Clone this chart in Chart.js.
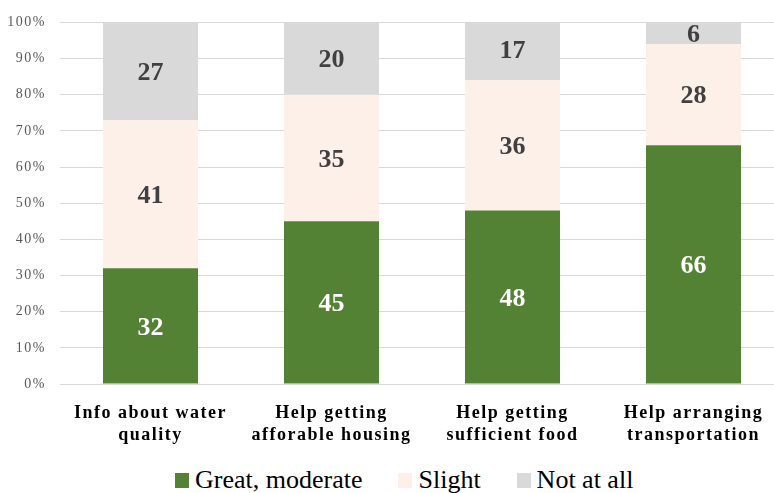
<!DOCTYPE html>
<html>
<head>
<meta charset="utf-8">
<script src="https://cdn.jsdelivr.net/npm/chart.js@4/dist/chart.umd.min.js"></script>
<style>
  html, body { margin: 0; padding: 0; background: #fff; overflow: hidden; }
  #wrap { position: relative; width: 784px; height: 493px; }
  #plot { width: 784px; height: 448px; }
  #legend {
    position: absolute; left: 175px; top: 465px;
    font: 26px 'Liberation Serif', 'Times New Roman', serif;
    line-height: 30px; color: #000; white-space: nowrap;
  }
  #legend .item { display: inline-block; margin-right: 36px; }
  #legend .box { display: inline-block; width: 14px; height: 15px; margin-right: 6px; }
</style>
</head>
<body>
<div id="wrap">
  <div id="plot"><canvas id="myChart"></canvas></div>
  <div id="legend"></div>
</div>
<script>
// Survey categories (two-line labels) and the share of answers per level
const categories = [
  ["Info about water", "quality"],
  ["Help getting", "afforable housing"],
  ["Help getting", "sufficient food"],
  ["Help arranging", "transportation"]
];
const seriesNames = ["Great, moderate", "Slight", "Not at all"];
const greatModerate = [32, 45, 48, 66];
const slight = [41, 35, 36, 28];
const notAtAll = [27, 20, 17, 6];
const yTicks = [0, 10, 20, 30, 40, 50, 60, 70, 80, 90, 100];
const colors = ["#548235", "#FDF0E9", "#D9D9D9"];

const serif = "'Liberation Serif', 'Times New Roman', serif";

// Axis text is drawn a bit spread out, bar values are not
const axisSpacing = {
  id: 'axisSpacing',
  beforeDraw(chart) { chart.ctx.letterSpacing = "1.5px"; },
  beforeDatasetsDraw(chart) { chart.ctx.letterSpacing = "0px"; }
};

// Writes the value in the middle of each bar segment
const segmentLabels = {
  id: 'segmentLabels',
  afterDatasetsDraw(chart) {
    const c = chart.ctx;
    c.save();
    c.font = "bold 26px " + serif;
    c.textAlign = "center";
    c.textBaseline = "middle";
    chart.data.datasets.forEach((ds, i) => {
      const meta = chart.getDatasetMeta(i);
      meta.data.forEach((bar, j) => {
        const mid = (bar.y + bar.base) / 2;
        c.fillStyle = i === 0 ? "#ffffff" : "#404040";
        c.fillText(ds.data[j], bar.x, mid + 2);
      });
    });
    c.restore();
  }
};

const ctx = document.getElementById('myChart');
const myChart = new Chart(ctx, {
  type: 'bar',
  data: {
    labels: categories,
    datasets: [
      { label: seriesNames[0], data: greatModerate, backgroundColor: colors[0] },
      { label: seriesNames[1], data: slight, backgroundColor: colors[1] },
      { label: seriesNames[2], data: notAtAll, backgroundColor: colors[2] }
    ]
  },
  options: {
    responsive: true,
    maintainAspectRatio: false,
    animation: false,
    layout: { padding: { top: 20, left: 0, right: 0, bottom: 0 } },
    datasets: { bar: { categoryPercentage: 1, barPercentage: 0.525 } },
    scales: {
      x: {
        stacked: true,
        grid: { display: false, drawTicks: false },
        border: { display: false },
        ticks: {
          color: "#000",
          font: { family: serif, size: 18, weight: "bold", lineHeight: 1.25 },
          padding: 18,
          maxRotation: 0
        },
        afterFit(scale) { scale.height = 64; }
      },
      y: {
        stacked: true,
        min: 0,
        max: 100,
        afterBuildTicks(scale) { scale.ticks = yTicks.map(v => ({ value: v })); },
        grid: { color: "#D9D9D9", drawTicks: false },
        border: { display: false },
        ticks: {
          color: "#595959",
          font: { family: serif, size: 14 },
          padding: 14,
          callback: v => v + "%"
        },
        afterFit(scale) { scale.width = 60; }
      }
    },
    plugins: {
      legend: { display: false },
      tooltip: { enabled: false }
    }
  },
  plugins: [axisSpacing, segmentLabels]
});

// Legend below the plot
const legend = document.getElementById('legend');
myChart.data.datasets.forEach(ds => {
  const item = document.createElement('span');
  item.className = 'item';
  const box = document.createElement('span');
  box.className = 'box';
  box.style.background = ds.backgroundColor;
  item.appendChild(box);
  item.appendChild(document.createTextNode(ds.label));
  legend.appendChild(item);
});
</script>
</body>
</html>
